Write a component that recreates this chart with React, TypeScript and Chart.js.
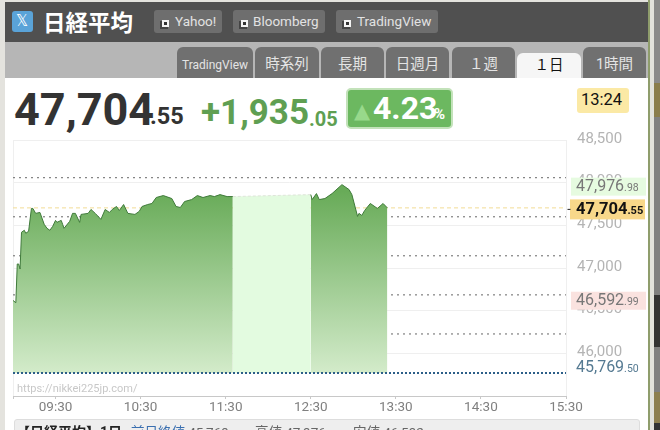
import React, { useEffect, useRef } from "react";
import { Chart, registerables } from "chart.js";

Chart.register(...registerables);

// minutes after 09:00
const morningMinutes = [0,2,3,4,5,6,8,9,11,13,14,16,19,22,24,26,28,30,31,34,35,36,40,42,44,47,48,53,55,58,62,65,68,70,73,75,78,81,86,89,91,95,98,101,106,112,115,118,121,126,130,134,139,142,146,151,155];
const morningValues = [46620,46593,47047,47047,46988,47419,47442,47407,47430,47698,47698,47640,47651,47512,47465,47442,47488,47558,47535,47558,47512,47465,47547,47640,47640,47535,47628,47640,47686,47640,47570,47686,47651,47686,47721,47674,47744,47640,47628,47663,47721,47744,47756,47826,47849,47814,47721,47709,47779,47802,47849,47826,47849,47837,47860,47837,47837];
const lunchMinutes = [155,210];
const lunchValues = [47837,47860];
const afternoonMinutes = [210,211,214,216,220,225,232,237,239,243,244,246,248,252,257,261,264];
const afternoonValues = [47860,47802,47872,47802,47814,47872,47977,47919,47860,47605,47640,47616,47674,47756,47698,47756,47705];

const prevClose = 45769.5;
const current = 47704.55;
const high = 47976.98;
const low = 46592.99;
const percentLevels = [48058,47600,47143,46685,46227];
const xTickMinutes = [0,30,90,150,210,270,330,390];
const xTickLabels = ["","09:30","10:30","11:30","12:30","13:30","14:30","15:30"];

const linkButtons = ["Yahoo!","Bloomberg","TradingView"];
const tabs = ["TradingView","時系列","長期","日週月","１週","１日","1時間"];

const ROBOTO = "Roboto, sans-serif";
const JP = "Roboto, 'Noto Sans CJK JP', sans-serif";

function zip(xs: number[], ys: number[]) {
  return xs.map((x, i) => ({ x, y: ys[i] }));
}

const badgePlugin = {
  id: "priceBadges",
  afterDraw(chart: any) {
    const { ctx, scales } = chart;
    const y = scales.y;
    const rows = [
      { v: high, whole: "47,976", dec: ".98", bg: "#e6fbe0", color: "#777777", weight: "400", size: 16, dsize: 10.5, off: 2, x0: 571, h: 18 },
      { v: low, whole: "46,592", dec: ".99", bg: "#fae2df", color: "#777777", weight: "400", size: 16, dsize: 10.5, off: -2, x0: 571, h: 18 },
      { v: prevClose, whole: "45,769", dec: ".50", bg: "", color: "#557a92", weight: "400", size: 16, dsize: 10.5, off: -5, x0: 571, h: 18 },
      { v: current, whole: "47,704", dec: ".55", bg: "#f8d88a", color: "#111111", weight: "700", size: 16.5, dsize: 11, off: 1.5, x0: 570, h: 20 },
    ];
    ctx.save();
    ctx.textBaseline = "middle";
    ctx.textAlign = "left";
    for (const r of rows) {
      const cy = y.getPixelForValue(r.v) + r.off;
      if (r.bg) {
        ctx.fillStyle = r.bg;
        ctx.fillRect(r.x0, cy - r.h / 2, 75, r.h);
      }
      ctx.fillStyle = r.color;
      ctx.font = `${r.weight} ${r.size}px ${ROBOTO}`;
      ctx.fillText(r.whole, 576, cy);
      const w = ctx.measureText(r.whole).width;
      ctx.font = `${r.weight} ${r.dsize}px ${ROBOTO}`;
      ctx.fillText(r.dec, 576 + w, cy + 1.5);
    }
    const py = y.getPixelForValue(current) + 1.5;
    ctx.strokeStyle = "#222222";
    ctx.lineWidth = 1;
    ctx.beginPath();
    ctx.moveTo(567.5, py);
    ctx.lineTo(570.5, py);
    ctx.stroke();
    ctx.restore();
  },
};

function areaGradient(context: any) {
  const { chart } = context;
  const { ctx, scales, chartArea } = chart;
  if (!chartArea || !scales.y) return "#8cc07f";
  const top = scales.y.getPixelForValue(47900);
  const bottom = scales.y.getPixelForValue(prevClose);
  if (!Number.isFinite(top) || !Number.isFinite(bottom)) return "#8cc07f";
  const g = ctx.createLinearGradient(0, top, 0, bottom);
  g.addColorStop(0, "#68ab58");
  g.addColorStop(1, "#d3ebca");
  return g;
}

function refLine(v: number, color: string, width: number, dash: number[]) {
  return {
    data: [{ x: 0, y: v }, { x: 390, y: v }],
    borderColor: color,
    borderWidth: width,
    borderDash: dash,
    pointRadius: 0,
    fill: false,
    order: 5,
  };
}

function PriceChart() {
  const ref = useRef<HTMLCanvasElement | null>(null);
  useEffect(() => {
    if (!ref.current) return;
    const sessionStyle = {
      borderColor: "#3f7a3a",
      borderWidth: 1,
      pointRadius: 0,
      tension: 0,
      fill: { value: prevClose },
      backgroundColor: areaGradient,
      order: 1,
    };
    const chart = new Chart(ref.current, {
      type: "line",
      data: {
        datasets: [
          ...percentLevels.map((v) => refLine(v, "#666666", 1, [2, 4])),
          refLine(current, "#f2dc96", 1, [4, 3]),
          { ...refLine(prevClose, "#2c5f88", 2, [2, 2]), order: 0 },
          { ...sessionStyle, data: zip(morningMinutes, morningValues) },
          {
            data: zip(lunchMinutes, lunchValues),
            borderColor: "#dfe4da",
            borderWidth: 1,
            borderDash: [3, 2],
            pointRadius: 0,
            fill: { value: prevClose },
            backgroundColor: "#e3fbe0",
            order: 2,
          },
          { ...sessionStyle, data: zip(afternoonMinutes, afternoonValues) },
        ],
      } as any,
      options: {
        animation: false,
        responsive: false,
        maintainAspectRatio: false,
        layout: { padding: { left: 13, top: 18, right: 0, bottom: 0 } },
        plugins: { legend: { display: false }, tooltip: { enabled: false } },
        scales: {
          x: {
            type: "linear",
            min: 0,
            max: 390,
            afterBuildTicks(axis: any) {
              axis.ticks = xTickMinutes.map((value) => ({ value }));
            },
            afterFit(axis: any) {
              axis.height = 24;
            },
            ticks: {
              autoSkip: false,
              maxRotation: 0,
              padding: 1,
              color: "#808080",
              font: { family: ROBOTO, size: 13.5 },
              callback: (v: any) => xTickLabels[xTickMinutes.indexOf(Number(v))] ?? "",
            },
            grid: {
              color: (c: any) => (c.tick && (c.tick.value === 0 || c.tick.value === 390) ? "#efefef" : "rgba(0,0,0,0)"),
              tickColor: "#c8c8c8",
              tickLength: 3,
            },
            border: { color: "#c8c8c8" },
          },
          y: {
            type: "linear",
            position: "right",
            min: 45500,
            max: 48500,
            afterFit(axis: any) {
              axis.width = 82;
            },
            ticks: {
              stepSize: 500,
              padding: 11,
              labelOffset: -1,
              color: "#b4b4b4",
              font: { family: ROBOTO, size: 15 },
              callback: (v: any) => (Number(v) === 45500 ? "" : Number(v).toLocaleString("en-US")),
            },
            grid: { color: "#efefef", drawTicks: false },
            border: { display: false },
          },
        },
      } as any,
      plugins: [badgePlugin],
    });
    return () => chart.destroy();
  }, []);
  return <canvas ref={ref} width={648} height={300} style={{ position: "absolute", left: 0, top: 120, width: 648, height: 300 }} />;
}

type TextProps = { x: number; y: number; size: number; color: string; weight?: number; font?: string; children: React.ReactNode };

function T({ x, y, size, color, weight = 400, font = JP, children }: TextProps) {
  // y is the vertical centre of the line
  return (
    <span
      style={{
        position: "absolute",
        left: x,
        top: y - 20,
        height: 40,
        lineHeight: "40px",
        fontSize: size,
        color,
        fontWeight: weight,
        fontFamily: font,
        whiteSpace: "nowrap",
      }}
    >
      {children}
    </span>
  );
}

function Box({ x, y, w, h, bg, radius = "0", extra = {} }: any) {
  return <div style={{ position: "absolute", left: x, top: y, width: w, height: h, background: bg, borderRadius: radius, boxSizing: "border-box", ...extra }} />;
}

const buttonBoxes = [
  { x: 154, w: 68, tx: 175 },
  { x: 233, w: 92, tx: 253 },
  { x: 336, w: 102, tx: 357 },
];
const tabBoxes = [
  { x: 177, w: 76 },
  { x: 255, w: 64 },
  { x: 321, w: 63 },
  { x: 386, w: 63 },
  { x: 452, w: 63 },
  { x: 517, w: 64 },
  { x: 583, w: 63 },
];
const edgeSegments = [
  { y: 0, h: 83, c: "#8a8a8a" },
  { y: 83, h: 34, c: "#8a7d4c" },
  { y: 117, h: 178, c: "#808080" },
  { y: 295, h: 52, c: "#333333" },
  { y: 347, h: 45, c: "#808080" },
  { y: 392, h: 31, c: "#8d7f4f" },
  { y: 423, h: 7, c: "#333333" },
];

export default function App() {
  return (
    <div style={{ position: "fixed", left: 0, top: 0, width: 660, height: 430, overflow: "hidden", background: "#ffffff" }}>
      <Box x={0} y={0} w={5} h={430} bg="#e4e3de" />
      <Box x={0} y={0} w={648} h={2} bg="#e4e3de" />
      <Box x={648} y={0} w={2} h={430} bg="#8f9d6c" />
      <Box x={650} y={0} w={4} h={430} bg="#e2e2dc" />
      {edgeSegments.map((s, i) => (
        <Box key={i} x={654} y={s.y} w={6} h={s.h} bg={s.c} />
      ))}

      <Box x={5} y={2} w={643} h={40} bg="#505050" />
      <Box x={5} y={42} w={643} h={36} bg="#b6b6b6" />

      <Box x={12} y={11} w={21} h={21} bg="#5aa3d8" radius="3px" />
      <T x={16} y={21} size={15} color="#ffffff" font="'DejaVu Sans', sans-serif">𝕏</T>
      <T x={43} y={21} size={22.5} color="#ffffff" weight={700} font="'Noto Sans CJK JP', sans-serif">日経平均</T>

      {linkButtons.map((label, i) => {
        const b = buttonBoxes[i];
        return (
          <React.Fragment key={label}>
            <Box x={b.x} y={10} w={b.w} h={23} bg="#6e6e6e" radius="3px" />
            <Box x={b.x + 6} y={21} w={8} h={8} bg="#444444" />
            <Box x={b.x + 8} y={20} w={7} h={7} bg="#f4f4f4" extra={{ border: "2px solid #f4f4f4", background: "#333333" }} />
            <T x={b.tx} y={21} size={13.5} color="#e2e2e2">{label}</T>
          </React.Fragment>
        );
      })}

      {tabs.map((label, i) => {
        const b = tabBoxes[i];
        const active = label === "１日";
        const narrow = i === 0;
        return (
          <React.Fragment key={label}>
            <Box x={b.x} y={active ? 53 : 47} w={b.w} h={active ? 25 : 31} bg={active ? "#f6f6f6" : "#707070"} radius="6px 6px 0 0" />
            <div
              style={{
                position: "absolute",
                left: b.x,
                width: b.w,
                top: active ? 46 : 45,
                height: 40,
                lineHeight: "40px",
                textAlign: "center",
                fontSize: narrow ? 12 : 14.5,
                fontFamily: JP,
                color: active ? "#111111" : "#e4e4e4",
                whiteSpace: "nowrap",
              }}
            >
              {label}
            </div>
          </React.Fragment>
        );
      })}

      <T x={14} y={110} size={45} color="#333333" weight={700} font={ROBOTO}>47,704</T>
      <T x={150} y={116} size={23.5} color="#333333" weight={700} font={ROBOTO}>.55</T>
      <T x={201} y={113} size={35} color="#5f9f52" weight={700} font={ROBOTO}>+1,935</T>
      <T x={309} y={119} size={20} color="#5f9f52" weight={700} font={ROBOTO}>.05</T>

      <Box x={346} y={88} w={107} h={41} bg="#6cb860" radius="5px" extra={{ border: "2px solid #c3e2ba" }} />
      <T x={354} y={111} size={21} color="#98d98b" font="'DejaVu Sans', sans-serif">▲</T>
      <T x={373} y={108} size={32} color="#ffffff" weight={700} font={ROBOTO}>4.23</T>
      <T x={434} y={114} size={15} color="#ffffff" weight={700} font={ROBOTO}>%</T>

      <Box x={577} y={88} w={52} h={25} bg="#fbe9a5" radius="3px" />
      <T x={581} y={100} size={16.5} color="#111111" font={ROBOTO}>13:24</T>

      <PriceChart />
      <T x={17} y={389} size={11} color="#c8c8c8" font={ROBOTO}>https://nikkei225jp.com/</T>

      <Box x={14} y={419} w={626} h={14} bg="#eeeeee" radius="3px" extra={{ border: "1px solid #dddddd" }} />
      <T x={16} y={432} size={14} color="#222222" weight={700}>【日経平均】1日</T>
      <T x={131} y={432} size={13.5} color="#3a6fb0">前日終値<span style={{ color: "#666666" }}>:45,769</span></T>
      <T x={255} y={432} size={13.5} color="#666666">高値:47,976</T>
      <T x={353} y={432} size={13.5} color="#666666">安値:46,592</T>
    </div>
  );
}
